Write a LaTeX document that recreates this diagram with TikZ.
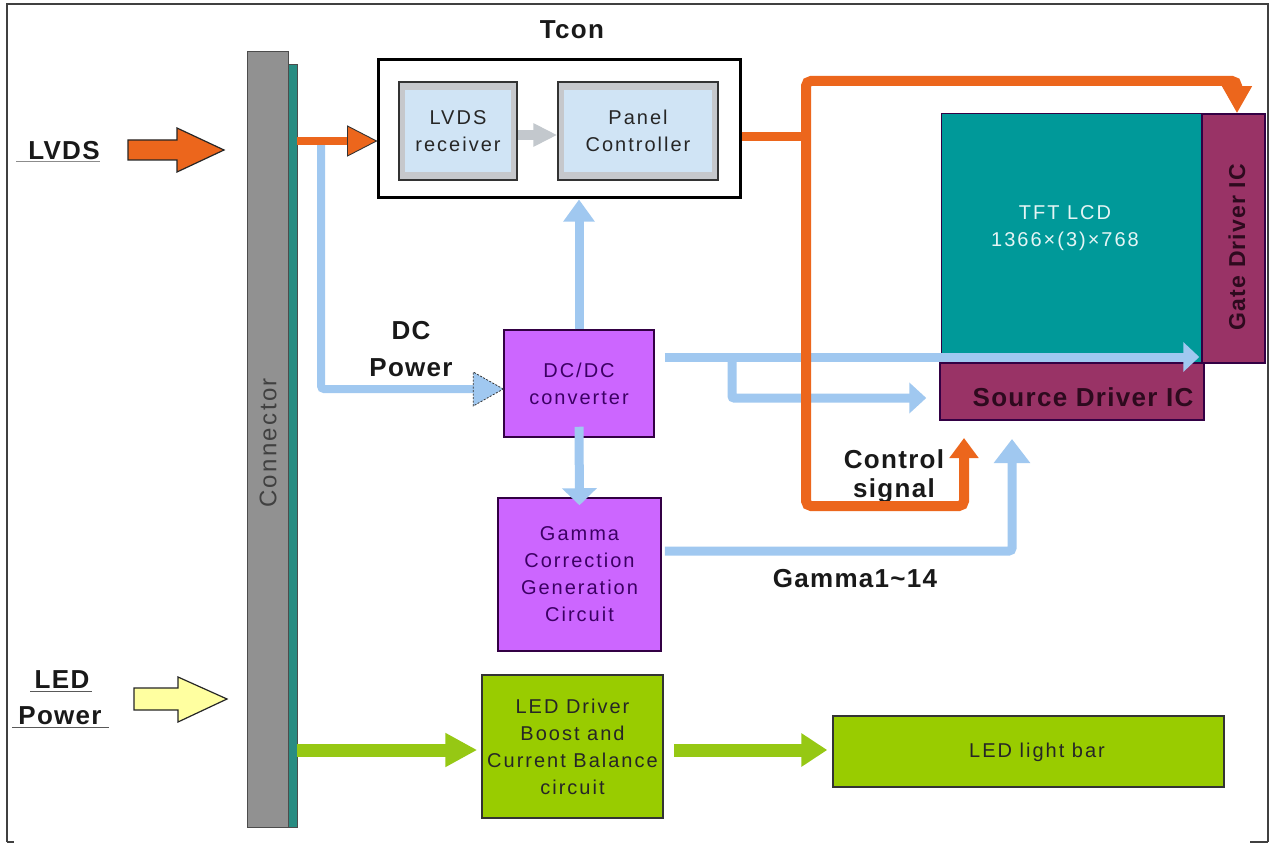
\documentclass[tikz,border=0pt]{standalone}
\usepackage{fontspec}
\setmainfont{Liberation Sans}
\newfontfamily\boxfont[LetterSpace=10]{Liberation Sans}
\newfontfamily\lblfont[LetterSpace=5]{Liberation Sans}
\usetikzlibrary{arrows.meta,calc}
\definecolor{orng}{RGB}{236,102,28}
\definecolor{bluC}{RGB}{160,200,240}
\definecolor{violetC}{RGB}{204,102,255}
\definecolor{violetD}{RGB}{51,0,68}
\definecolor{violetT}{RGB}{60,0,100}
\definecolor{tealC}{RGB}{0,153,153}
\definecolor{tealS}{RGB}{40,140,130}
\definecolor{maroonC}{RGB}{153,51,102}
\definecolor{maroonT}{RGB}{45,10,30}
\definecolor{grnC}{RGB}{153,204,0}
\definecolor{grnA}{RGB}{150,200,20}
\definecolor{grayC}{RGB}{145,145,145}
\definecolor{rcvC}{RGB}{198,200,204}
\definecolor{rcvIn}{RGB}{208,228,245}
\definecolor{grayA}{RGB}{195,200,205}
\definecolor{ylwC}{RGB}{255,255,160}
\begin{document}
\begin{tikzpicture}[x=1pt,y=-1pt,
  blk/.style={inner sep=0pt, align=center, font=\boxfont\fontsize{20}{27}\selectfont},
  lbl/.style={inner sep=0pt, align=center, font=\lblfont\bfseries\fontsize{26}{30}\selectfont, text=black!90},
  vbox/.style={blk, draw=violetD, line width=1.5pt, fill=violetC, text=violetT},
  gbox/.style={blk, draw=black!80, line width=1.5pt, fill=grnC, text=black!85},
  mbox/.style={blk, draw=violetD, line width=1.5pt, fill=maroonC},
  rcv/.style={blk, draw=black!80, line width=1.5pt, fill=rcvC, text=black!85,
    path picture={\fill[rcvIn] ([shift={(6pt,-8pt)}]path picture bounding box.north west) rectangle ([shift={(-6pt,8pt)}]path picture bounding box.south east);}},
  bl/.style={draw=bluC, line width=9pt},
  orl/.style={draw=orng, line width=10pt},
  grl/.style={draw=grnA, line width=13pt},
  uline/.style={draw=black!65, line width=1pt}
]
\useasboundingbox (0,0) rectangle (1271,845);
\fill[white] (0,0) rectangle (1271,845);
% frame
\draw[black!75, line width=1.5pt] (7,842) -- (7,4) -- (1268,4) -- (1268,842);
\draw[black!75, line width=1.5pt] (7,842) -- (14,842);
\draw[black!75, line width=1.5pt] (1250,842) -- (1268,842);

% connector bar
\node[draw=black!70, line width=1pt, fill=grayC, minimum width=41pt, minimum height=775pt, inner sep=0pt] (conn) at (267.5,439.5) {};
\node[draw=black!70, line width=0.8pt, fill=tealS, minimum width=9pt, minimum height=763pt, inner sep=0pt] (strip) at (292.5,445.5) {};
\node[rotate=90, inner sep=0pt, font=\boxfont\fontsize{24}{28}\selectfont, text=black!75] (conntext) at (268,443) {Connector};

% Tcon
\node[lbl] (tconl) at (572,30) {Tcon};
\node[draw=black, line width=3pt, fill=white, minimum width=362pt, minimum height=138pt, inner sep=0pt] (tcon) at (559,129) {};
\node[rcv, minimum width=118pt, minimum height=98pt] (lvdsr) at (458,131) {LVDS\\receiver};
\node[rcv, minimum width=160pt, minimum height=98pt] (panel) at (638,131) {Panel\\Controller};
\draw[draw=grayA, line width=10pt, -{Triangle[length=24pt,width=22pt]}] (lvdsr.east|-0,135) -- (panel.west|-0,135);

% boxes
\node[vbox, minimum width=150pt, minimum height=107pt] (dcdc) at (579,383.5) {DC/DC\\converter};
\node[vbox, minimum width=163pt, minimum height=153pt] (gamma) at (579.5,574.5) {Gamma\\Correction\\Generation\\Circuit};
\node[draw=violetD, line width=1pt, fill=tealC, minimum width=261pt, minimum height=249pt, inner sep=0pt] (tft) at (1071.5,238.5) {};
\node[blk, text=white!90!tealC] (tfttext) at (1065,228) {TFT LCD\\1366×(3)×768};
\node[mbox, minimum width=63pt, minimum height=249pt] (gate) at (1233.5,238.5) {};
\node[lbl, rotate=90, font=\lblfont\bfseries\fontsize{23}{27}\selectfont, text=maroonT] (gatetext) at (1237,247) {Gate Driver IC};
\node[mbox, minimum width=264pt, minimum height=57pt] (src) at (1072,391.5) {};
\node[lbl, text=maroonT] (srctext) at (1083,397) {Source Driver IC};
\node[gbox, minimum width=181pt, minimum height=143pt] (ledd) at (572.5,746.5) {LED Driver\\Boost and\\Current Balance\\circuit};
\node[gbox, minimum width=391pt, minimum height=71pt] (bar) at (1028.5,751.5) {};
\node[blk, text=black!85] (bartext) at (1037,752) {LED light bar};

% labels
\node[lbl, anchor=base] (lvdsl) at (64,160) {LVDS};
\draw[uline, black!45] (16,162) -- (100,162);
\node[lbl, anchor=base] (ledl) at (62,688) {LED};
\draw[uline] (30,691) -- (92,691);
\node[lbl, anchor=base] (pwrl) at (60,724) {Power};
\draw[uline] (12,727) -- (109,727);
\node[lbl, font=\lblfont\bfseries\fontsize{26}{37}\selectfont] (dcpl) at (411,349) {DC\\Power};
\node[lbl, font=\lblfont\bfseries\fontsize{26}{29}\selectfont] (ctll) at (894,476) {Control\\signal};
\node[lbl] (gaml) at (855,579) {Gamma1\textasciitilde 14};

% input arrows
\draw[fill=orng, draw=black!85, line width=1.2pt] (128,140) -- (177,140) -- (177,128) -- (224,150) -- (177,172) -- (177,160) -- (128,160) -- cycle;
\draw[fill=ylwC, draw=black!85, line width=1.2pt] (134,688) -- (178,688) -- (178,677) -- (227,699) -- (178,722) -- (178,710) -- (134,710) -- cycle;

% blue connectors
\coordinate (dcsrc) at (321,141);
\draw[bl, line width=8pt, rounded corners=3pt] (dcsrc) -- (321,389) -- ([xshift=-29pt]dcdc.west|-0,389);
\draw[fill=bluC, draw=black!80, dash pattern=on 2pt off 1.5pt, line width=0.8pt] (dcdc.west|-0,389) -- ++(-30,-17) -- ++(0,34) -- cycle;
\draw[bl, -{Triangle[length=22pt,width=30pt]}] (dcdc.north) -- (dcdc.north|-tcon.south);
\draw[bl, -{Triangle[length=16pt,width=29pt]}] ([xshift=10pt]dcdc.east|-0,357) -- ([xshift=-2pt]gate.west|-0,357);
\draw[bl, rounded corners=2pt, -{Triangle[length=17pt,width=30pt]}] (732,357) -- (732,398) -- ([xshift=-13pt]src.west|-0,398);
\draw[bl, -{Triangle[length=17pt,width=34pt]}] ([yshift=11pt]dcdc.south) -- ([yshift=-8pt]gamma.north);
\coordinate (gamin) at (1012,439);
\draw[bl, rounded corners=3pt, -{Triangle[length=24pt,width=35pt]}] ([xshift=3pt]gamma.east|-0,551) -- (1012,551) -- (gamin);

% orange connectors
\draw[draw=orng, line width=8pt] (strip.east|-0,141) -- ([xshift=-28pt]tcon.west|-0,141);
\draw[fill=orng, draw=black!80, line width=0.9pt] (tcon.west|-0,141) -- ++(-29,-15) -- ++(0,30) -- cycle;
\draw[draw=orng, line width=9pt] (tcon.east|-0,137) -- (806,137);
\coordinate (ctlin) at (964,438);
\draw[orl, rounded corners=5pt, {Triangle[length=27pt,width=28pt]}-{Triangle[length=20pt,width=28pt]}] (gate.north -| 1237,0) -- (1237,81) -- (806,81) -- (806,506) -- (964,506) -- (ctlin);

% green connectors
\draw[grl, -{Triangle[length=32pt,width=32pt]}] (strip.east|-0,750) -- ([xshift=-4pt]ledd.west|-0,750);
\draw[grl, -{Triangle[length=26pt,width=32pt]}] ([xshift=10pt]ledd.east|-0,750) -- ([xshift=-5pt]bar.west|-0,750);
\end{tikzpicture}
\end{document}
